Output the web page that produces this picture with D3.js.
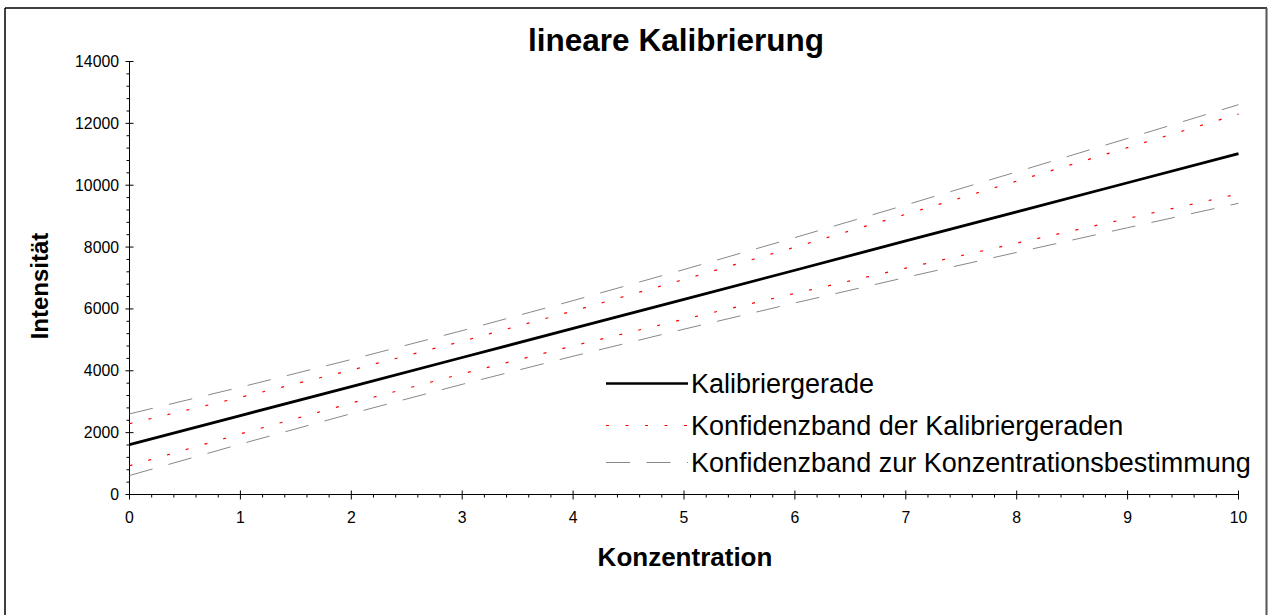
<!DOCTYPE html>
<html>
<head>
<meta charset="utf-8">
<script src="https://cdn.jsdelivr.net/npm/d3@7"></script>
<style>
  html, body { margin: 0; padding: 0; background: #fff; }
  svg { display: block; font-family: "Liberation Sans", Arial, sans-serif; }
</style>
</head>
<body>
<svg id="chart" width="1269" height="615"></svg>
<script>
// Konzentrationen (x) und Intensitäten der Kalibrierung
const konzentration = [0, 1, 2, 3, 4, 5, 6, 7, 8, 9, 10];
const kalibriergerade = [1610, 2550, 3490, 4430, 5370, 6310, 7250, 8200, 9140, 10080, 11020];
const konfOben = [2290, 3140, 4025, 4956, 5934, 6953, 7998, 9060, 10134, 11215, 12300];
const konfUnten = [930, 1960, 2955, 3904, 4806, 5667, 6502, 7320, 8126, 8925, 9720];
const vorhersageOben = [2606, 3470, 4365, 5298, 6269, 7274, 8307, 9361, 10432, 11514, 12604];
const vorhersageUnten = [614, 1630, 2615, 3562, 4471, 5346, 6193, 7019, 7828, 8626, 9416];

const yTicks = [0, 2000, 4000, 6000, 8000, 10000, 12000, 14000];
const xTicks = [0, 1, 2, 3, 4, 5, 6, 7, 8, 9, 10];

const legendLabels = [
  "Kalibriergerade",
  "Konfidenzband der Kalibriergeraden",
  "Konfidenzband zur Konzentrationsbestimmung"
];

const svg = d3.select("#chart");

// Rahmen um das Diagramm
svg.append("line").attr("x1", 5).attr("y1", 8).attr("x2", 5).attr("y2", 615)
  .attr("stroke", "#000").attr("stroke-width", 1.5);
svg.append("line").attr("x1", 5).attr("y1", 8).attr("x2", 1267).attr("y2", 8)
  .attr("stroke", "#000").attr("stroke-width", 1.5);
svg.append("line").attr("x1", 1266.5).attr("y1", 8).attr("x2", 1266.5).attr("y2", 615)
  .attr("stroke", "#555").attr("stroke-width", 2);

const x = d3.scaleLinear().domain([0, 10]).range([129.5, 1238.5]);
const y = d3.scaleLinear().domain([0, 14000]).range([494.5, 61.5]);

// Achsen mit Haupt- und Nebenstrichen
const yMinor = d3.range(0, 14001, 400).filter(v => v % 2000 !== 0);
const xMinor = d3.range(0, 50).map(i => i * 0.2).filter((v, i) => i % 5 !== 0);

const gY = svg.append("g");
gY.append("line").attr("x1", x(0)).attr("x2", x(0)).attr("y1", y(0)).attr("y2", y(14000))
  .attr("stroke", "#000");
gY.selectAll(".ymaj").data(yTicks).join("line")
  .attr("x1", x(0) - 4).attr("x2", x(0) + 4)
  .attr("y1", d => y(d)).attr("y2", d => y(d)).attr("stroke", "#000");
gY.selectAll(".ymin").data(yMinor).join("line")
  .attr("x1", x(0) - 3).attr("x2", x(0))
  .attr("y1", d => y(d)).attr("y2", d => y(d)).attr("stroke", "#000");
gY.selectAll("text").data(yTicks).join("text")
  .attr("x", 119).attr("y", d => y(d) + 5.5)
  .attr("text-anchor", "end").attr("font-size", 15.8).text(d => d);

const gX = svg.append("g");
gX.append("line").attr("x1", x(0)).attr("x2", x(10)).attr("y1", y(0)).attr("y2", y(0))
  .attr("stroke", "#000");
gX.selectAll(".xmaj").data(xTicks).join("line")
  .attr("x1", d => x(d)).attr("x2", d => x(d))
  .attr("y1", y(0) - 4).attr("y2", y(0) + 5).attr("stroke", "#000");
gX.selectAll(".xmin").data(xMinor).join("line")
  .attr("x1", d => x(d)).attr("x2", d => x(d))
  .attr("y1", y(0)).attr("y2", y(0) + 3).attr("stroke", "#000");
gX.selectAll("text").data(xTicks).join("text")
  .attr("x", d => x(d)).attr("y", 523)
  .attr("text-anchor", "middle").attr("font-size", 15.8).text(d => d);

// Kurven
const line = d3.line().x((d, i) => x(konzentration[i])).y(d => y(d));

const series = [
  { data: vorhersageOben, stroke: "#888", width: 1, dash: "24,16.5" },
  { data: vorhersageUnten, stroke: "#888", width: 1, dash: "24,16.5" },
  { data: konfOben, stroke: "#ff0000", width: 1.2, dash: "3,16.5" },
  { data: konfUnten, stroke: "#ff0000", width: 1.2, dash: "3,16.5" },
  { data: kalibriergerade, stroke: "#000", width: 2.8, dash: null }
];
svg.selectAll(".curve").data(series).join("path")
  .attr("d", d => line(d.data))
  .attr("fill", "none")
  .attr("stroke", d => d.stroke)
  .attr("stroke-width", d => d.width)
  .attr("stroke-dasharray", d => d.dash);

// Legende
const legendStyles = [
  { stroke: "#000", width: 2.5, dash: null },
  { stroke: "#ff0000", width: 1.2, dash: "3,16.5" },
  { stroke: "#888", width: 1, dash: "24,16.5" }
];
const legendY = [383.5, 425.5, 462.5];
const lg = svg.append("g");
legendLabels.forEach((lab, i) => {
  lg.append("line").attr("x1", 606).attr("x2", 688)
    .attr("y1", legendY[i]).attr("y2", legendY[i])
    .attr("stroke", legendStyles[i].stroke)
    .attr("stroke-width", legendStyles[i].width)
    .attr("stroke-dasharray", legendStyles[i].dash);
  lg.append("text").attr("x", 691).attr("y", legendY[i] + 9)
    .attr("font-size", 27).text(lab);
});

// Titel und Achsenbeschriftungen
svg.append("text").attr("x", 676).attr("y", 51).attr("text-anchor", "middle")
  .attr("font-size", 31.5).attr("font-weight", "bold").text("lineare Kalibrierung");
svg.append("text").attr("x", 685).attr("y", 566).attr("text-anchor", "middle")
  .attr("font-size", 26).attr("font-weight", "bold").text("Konzentration");
svg.append("text")
  .attr("transform", "translate(48,286) rotate(-90)")
  .attr("text-anchor", "middle")
  .attr("font-size", 24).attr("font-weight", "bold").text("Intensität");
</script>
</body>
</html>
